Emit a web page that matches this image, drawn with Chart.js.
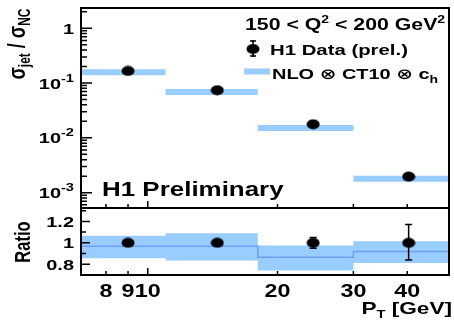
<!DOCTYPE html>
<html>
<head>
<meta charset="utf-8">
<script src="https://cdn.jsdelivr.net/npm/chart.js@4/dist/chart.umd.min.js"></script>
<style>
  html, body { margin: 0; padding: 0; background: #fff; }
  #wrap { position: relative; width: 454px; height: 321px; }
  #wrap canvas { position: absolute; left: 0; top: 0; }
</style>
</head>
<body>
<div id="wrap">
  <canvas id="top-panel" width="454" height="321"></canvas>
  <canvas id="ratio-panel" width="454" height="321"></canvas>
</div>
<script>
// P_T bins [GeV] and bin centres of the measurement
const binEdges = [7, 11, 18, 30, 50];
const ptCentres = [9, 14.5, 24.2, 40.3];

// sigma_jet / sigma_NC
const dataValues = [0.166, 0.074, 0.0177, 0.00196];
const nloValues = [0.158, 0.069, 0.0152, 0.0018];

// ratio panel
const ratioValues = [1.0, 1.0, 1.0, 1.0];
const ratioErrUp = [0.01, 0.02, 0.05, 0.17];
const ratioErrDown = [0.01, 0.02, 0.05, 0.16];
const nloRatioCentral = [0.968, 0.968, 0.866, 0.92];
const nloRatioUp = [1.067, 1.09, 0.975, 1.015];
const nloRatioDown = [0.857, 0.836, 0.743, 0.811];

// axis ticks
const xTickLabels = [8, 9, 10, 20, 30, 40];
const xMinorTicks = [7, 8, 9, 20, 30, 40];
const xMajorTicks = [10];
const logDecades = [-3, -2, -1, 0];
const ratioMajorTicks = [0.8, 1.0, 1.2];
const ratioMinorTicks = [0.7, 0.9, 1.1, 1.3];
const ratioTickLabels = ["0.8", "1", "1.2"];

const FONT = '"Liberation Sans", "DejaVu Sans", Arial, sans-serif';
const HS = 1.33; // text in the original is stretched sideways
const BAND = "#99ccff";
const BAND_LINE = "#6f9ff2";

// black ellipse used as marker
function makeMarker() {
  const c = document.createElement("canvas");
  c.width = 14;
  c.height = 11;
  const g = c.getContext("2d");
  g.fillStyle = "#000";
  g.beginPath();
  g.ellipse(7, 5.5, 6.5, 5, 0, 0, Math.PI * 2);
  g.fill();
  return c;
}
const marker = makeMarker();

// parts: [text, size, dy]
function partsWidth(ctx, parts) {
  let w = 0;
  parts.forEach((p) => {
    ctx.font = `bold ${p[1]}px ${FONT}`;
    w += ctx.measureText(p[0]).width;
  });
  return w;
}

function drawRich(ctx, parts, x, y, align) {
  const w = partsWidth(ctx, parts) * HS;
  let cx = x;
  if (align === "right") cx = x - w;
  if (align === "center") cx = x - w / 2;
  ctx.save();
  ctx.fillStyle = "#000";
  ctx.textAlign = "left";
  ctx.textBaseline = "alphabetic";
  parts.forEach((p) => {
    ctx.font = `bold ${p[1]}px ${FONT}`;
    const pw = ctx.measureText(p[0]).width;
    ctx.save();
    ctx.translate(cx, y + (p[2] || 0));
    ctx.scale(HS, 1);
    ctx.fillText(p[0], 0, 0);
    ctx.restore();
    cx += pw * HS;
  });
  ctx.restore();
}

// rotated text, reading bottom to top, centred on y
function drawRichUp(ctx, parts, x, y) {
  const w = partsWidth(ctx, parts);
  ctx.save();
  ctx.translate(x, y);
  ctx.rotate(-Math.PI / 2);
  ctx.scale(1, HS);
  ctx.fillStyle = "#000";
  ctx.textAlign = "left";
  ctx.textBaseline = "alphabetic";
  let cx = -w / 2;
  parts.forEach((p) => {
    ctx.font = `bold ${p[1]}px ${FONT}`;
    ctx.fillText(p[0], cx, p[2] || 0);
    cx += ctx.measureText(p[0]).width;
  });
  ctx.restore();
}

function drawFrame(chart) {
  const { ctx, chartArea: a } = chart;
  ctx.save();
  ctx.strokeStyle = "#000";
  ctx.lineWidth = 2;
  ctx.strokeRect(a.left, a.top, a.right - a.left, a.bottom - a.top);
  ctx.restore();
}

function drawXTicks(chart) {
  const { ctx, chartArea: a } = chart;
  const xs = chart.scales.x;
  ctx.save();
  ctx.strokeStyle = "#000";
  ctx.lineWidth = 1.5;
  ctx.beginPath();
  xMinorTicks.forEach((v) => {
    const px = xs.getPixelForValue(v);
    ctx.moveTo(px, a.bottom);
    ctx.lineTo(px, a.bottom - 4);
  });
  xMajorTicks.forEach((v) => {
    const px = xs.getPixelForValue(v);
    ctx.moveTo(px, a.bottom);
    ctx.lineTo(px, a.bottom - 7);
  });
  ctx.stroke();
  ctx.restore();
}

function drawYTick(ctx, a, py, len) {
  ctx.moveTo(a.left, py);
  ctx.lineTo(a.left + len, py);
}

function drawErrorBars(chart, dsIndex, up, down) {
  const { ctx } = chart;
  const meta = chart.getDatasetMeta(dsIndex);
  const ys = chart.scales.y;
  ctx.save();
  ctx.strokeStyle = "#000";
  ctx.lineWidth = 1.5;
  ctx.beginPath();
  meta.data.forEach((pt, i) => {
    const v = chart.data.datasets[dsIndex].data[i].y;
    const yTop = ys.getPixelForValue(v + up[i]);
    const yBot = ys.getPixelForValue(v - down[i]);
    ctx.moveTo(pt.x, yTop);
    ctx.lineTo(pt.x, yBot);
    ctx.moveTo(pt.x - 3.5, yTop);
    ctx.lineTo(pt.x + 3.5, yTop);
    ctx.moveTo(pt.x - 3.5, yBot);
    ctx.lineTo(pt.x + 3.5, yBot);
  });
  ctx.stroke();
  ctx.restore();
}

// step outline over the bins: two points per bin
function binSteps(values) {
  const pts = [];
  values.forEach((v, i) => {
    pts.push({ x: binEdges[i], y: v });
    pts.push({ x: binEdges[i + 1], y: v });
  });
  return pts;
}

/* ---------- upper panel ---------- */
const topDecor = {
  id: "topDecor",
  afterDraw(chart) {
    const { ctx, chartArea: a } = chart;
    const ys = chart.scales.y;
    drawFrame(chart);
    drawXTicks(chart);

    // log y ticks
    ctx.save();
    ctx.strokeStyle = "#000";
    ctx.lineWidth = 1.5;
    ctx.beginPath();
    logDecades.concat([-4]).forEach((d) => {
      for (let m = 1; m <= 9; m++) {
        const v = m * Math.pow(10, d);
        if (v < ys.min || v > ys.max) continue;
        drawYTick(ctx, a, ys.getPixelForValue(v), m === 1 ? 11 : 6);
      }
    });
    ctx.stroke();
    ctx.restore();

    // y labels
    logDecades.forEach((d) => {
      const py = ys.getPixelForValue(Math.pow(10, d));
      if (d === 0) {
        drawRich(ctx, [["1", 15]], 74, py + 5.5, "right");
      } else {
        drawRich(ctx, [["10", 15], [String(d), 11, -7]], 74, py + 5.5, "right");
      }
    });

    // y title
    drawRichUp(
      ctx,
      [["\u03c3", 18], ["jet", 12, 4], [" / ", 18], ["\u03c3", 18], ["NC", 12, 4]],
      25,
      44
    );

    drawRich(ctx, [["H1 Preliminary", 19.5]], 102, 196, "left");

    // legend
    drawRich(
      ctx,
      [["150 < Q", 16], ["2", 10.5, -7], [" < 200 GeV", 16], ["2", 10.5, -7]],
      245,
      30,
      "left"
    );
    ctx.save();
    ctx.strokeStyle = "#000";
    ctx.lineWidth = 1.5;
    ctx.beginPath();
    ctx.moveTo(253, 40);
    ctx.lineTo(253, 57);
    ctx.moveTo(250, 41);
    ctx.lineTo(256, 41);
    ctx.moveTo(250, 56);
    ctx.lineTo(256, 56);
    ctx.stroke();
    ctx.drawImage(marker, 253 - 7, 49 - 5.5);
    ctx.fillStyle = BAND;
    ctx.fillRect(244, 68.5, 26, 6);
    ctx.restore();
    drawRich(ctx, [["H1 Data (prel.)", 15.3]], 270, 55, "left");
    drawRich(
      ctx,
      [["NLO \u2297 CT10 \u2297 c", 15], ["h", 10.5, 4]],
      272,
      79,
      "left"
    );
  },
};

const nloBinDatasets = nloValues.map((v, i) => ({
  type: "line",
  data: [
    { x: binEdges[i], y: v },
    { x: binEdges[i + 1], y: v },
  ],
  borderColor: BAND,
  borderWidth: 6,
  borderCapStyle: "butt",
  pointRadius: 0,
  order: 1,
}));

new Chart(document.getElementById("top-panel"), {
  type: "line",
  data: {
    datasets: [
      {
        label: "H1 Data (prel.)",
        data: ptCentres.map((x, i) => ({ x: x, y: dataValues[i] })),
        showLine: false,
        pointStyle: marker,
        order: 0,
      },
    ].concat(nloBinDatasets),
  },
  options: {
    responsive: false,
    animation: false,
    layout: { padding: { left: 81, right: 2, top: 8, bottom: 113 } },
    scales: {
      x: { type: "logarithmic", min: 7, max: 50, display: false },
      y: { type: "logarithmic", min: 5.25e-4, max: 2.34, display: false },
    },
    plugins: {
      legend: { display: false },
      tooltip: { enabled: false },
    },
  },
  plugins: [topDecor],
});

/* ---------- ratio panel ---------- */
const ratioDecor = {
  id: "ratioDecor",
  afterDraw(chart) {
    const { ctx, chartArea: a } = chart;
    const ys = chart.scales.y;
    const xs = chart.scales.x;
    drawErrorBars(chart, 0, ratioErrUp, ratioErrDown);
    drawFrame(chart);
    drawXTicks(chart);

    ctx.save();
    ctx.strokeStyle = "#000";
    ctx.lineWidth = 1.5;
    ctx.beginPath();
    ratioMajorTicks.forEach((v) => drawYTick(ctx, a, ys.getPixelForValue(v), 9));
    ratioMinorTicks.forEach((v) => {
      if (v > ys.min && v < ys.max) drawYTick(ctx, a, ys.getPixelForValue(v), 5);
    });
    ctx.stroke();
    ctx.restore();

    ratioMajorTicks.forEach((v, i) => {
      drawRich(ctx, [[ratioTickLabels[i], 15]], 74, ys.getPixelForValue(v) + 5.5, "right");
    });

    xTickLabels.forEach((v) => {
      drawRich(ctx, [[String(v), 17.5]], xs.getPixelForValue(v), 297, "center");
    });

    drawRich(ctx, [["P", 17], ["T", 11, 4], [" [GeV]", 17]], 452, 314, "right");
    drawRichUp(ctx, [["Ratio", 16.5]], 30, 242);
  },
};

new Chart(document.getElementById("ratio-panel"), {
  type: "line",
  data: {
    datasets: [
      {
        label: "Data / NLO",
        data: ptCentres.map((x, i) => ({ x: x, y: ratioValues[i] })),
        showLine: false,
        pointStyle: marker,
        order: 0,
      },
      {
        label: "NLO central",
        data: binSteps(nloRatioCentral),
        borderColor: BAND_LINE,
        borderWidth: 1.5,
        pointRadius: 0,
        order: 1,
      },
      {
        label: "NLO up",
        data: binSteps(nloRatioUp),
        borderWidth: 0,
        pointRadius: 0,
        fill: false,
        order: 2,
      },
      {
        label: "NLO down",
        data: binSteps(nloRatioDown),
        borderWidth: 0,
        pointRadius: 0,
        backgroundColor: BAND,
        fill: "-1",
        order: 2,
      },
    ],
  },
  options: {
    responsive: false,
    animation: false,
    layout: { padding: { left: 81, right: 2, top: 208, bottom: 46 } },
    scales: {
      x: { type: "logarithmic", min: 7, max: 50, display: false },
      y: { type: "linear", min: 0.7, max: 1.325, display: false },
    },
    plugins: {
      legend: { display: false },
      tooltip: { enabled: false },
    },
  },
  plugins: [ratioDecor],
});
</script>
</body>
</html>
